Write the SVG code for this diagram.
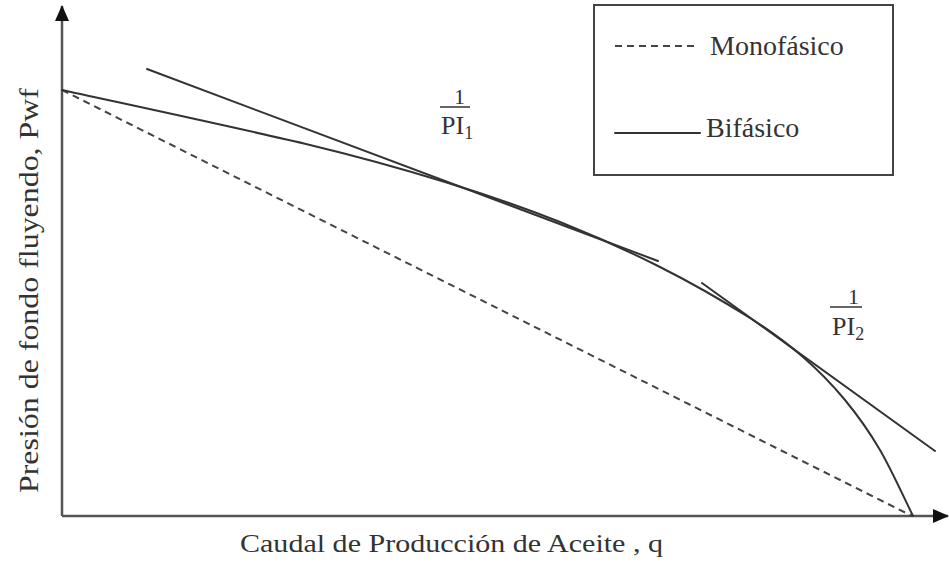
<svg xmlns="http://www.w3.org/2000/svg" width="949" height="573" viewBox="0 0 949 573">
<style>
.ln{fill:none;stroke:#333;stroke-width:2;stroke-linecap:round}
.ds{fill:none;stroke:#444;stroke-width:2;stroke-dasharray:7 5}
.ax{fill:none;stroke:#555;stroke-width:2.5}
.t{font-family:"Liberation Serif","DejaVu Serif",serif;fill:#333}
</style>
<defs>
<marker id="ah" viewBox="0 0 16 14" refX="15" refY="7" markerWidth="16" markerHeight="14" markerUnits="userSpaceOnUse" orient="auto">
<path d="M0,0 L16,7 L0,14 Z" fill="#111"/>
</marker>
</defs>
<rect width="949" height="573" fill="#fff"/>
<g id="axes">
<line class="ax" x1="62" y1="516" x2="62" y2="6" marker-end="url(#ah)"/>
<line class="ax" x1="62" y1="516" x2="948" y2="516" marker-end="url(#ah)"/>
</g>
<g id="connectors">
<line id="monofasico" class="ds" x1="62" y1="90" x2="912" y2="516"/>
<path id="bifasico" class="ln" d="M62,90 C103.3,99.2 246.2,129.7 310,145 C373.8,160.3 403.3,169.2 445,182 C486.7,194.8 524.2,207.8 560,222 C595.8,236.2 628.3,251 660,267 C691.7,283 726.2,303 750,318 C773.8,333 787.2,343.3 803,357 C818.8,370.7 832.2,384.5 845,400 C857.8,415.5 868.7,430.7 880,450 C891.3,469.3 907.5,505 913,516"/>
<line id="tangent1" class="ln" x1="147" y1="69" x2="658" y2="261"/>
<line id="tangent2" class="ln" x1="702" y1="283" x2="935" y2="451"/>
</g>
<g id="legend">
<rect x="594" y="5" width="299" height="170" fill="none" stroke="#444" stroke-width="2"/>
<line class="ds" x1="615" y1="46" x2="698" y2="46"/>
<text class="t" x="710" y="55" font-size="28">Monofásico</text>
<line class="ln" x1="615" y1="133" x2="700" y2="133" stroke-linecap="butt"/>
<text class="t" x="706" y="137" font-size="28">Bifásico</text>
</g>
<g id="label-pi1">
<text class="t" x="454" y="104" font-size="22">1</text>
<line x1="440" y1="107" x2="470" y2="107" stroke="#333" stroke-width="1.5"/>
<text class="t" x="441" y="134" font-size="26">PI<tspan font-size="18" dy="5">1</tspan></text>
</g>
<g id="label-pi2">
<text class="t" x="848" y="304" font-size="22">1</text>
<line x1="830" y1="307" x2="862" y2="307" stroke="#333" stroke-width="1.5"/>
<text class="t" x="832" y="335" font-size="26">PI<tspan font-size="18" dy="5">2</tspan></text>
</g>
<g id="axis-labels">
<text class="t" x="240" y="552" font-size="26" textLength="423" lengthAdjust="spacingAndGlyphs">Caudal de Producción de Aceite , q</text>
<text class="t" font-size="27" transform="translate(38,493) rotate(-90)" textLength="405" lengthAdjust="spacingAndGlyphs">Presión de fondo fluyendo, Pwf</text>
</g>
</svg>
